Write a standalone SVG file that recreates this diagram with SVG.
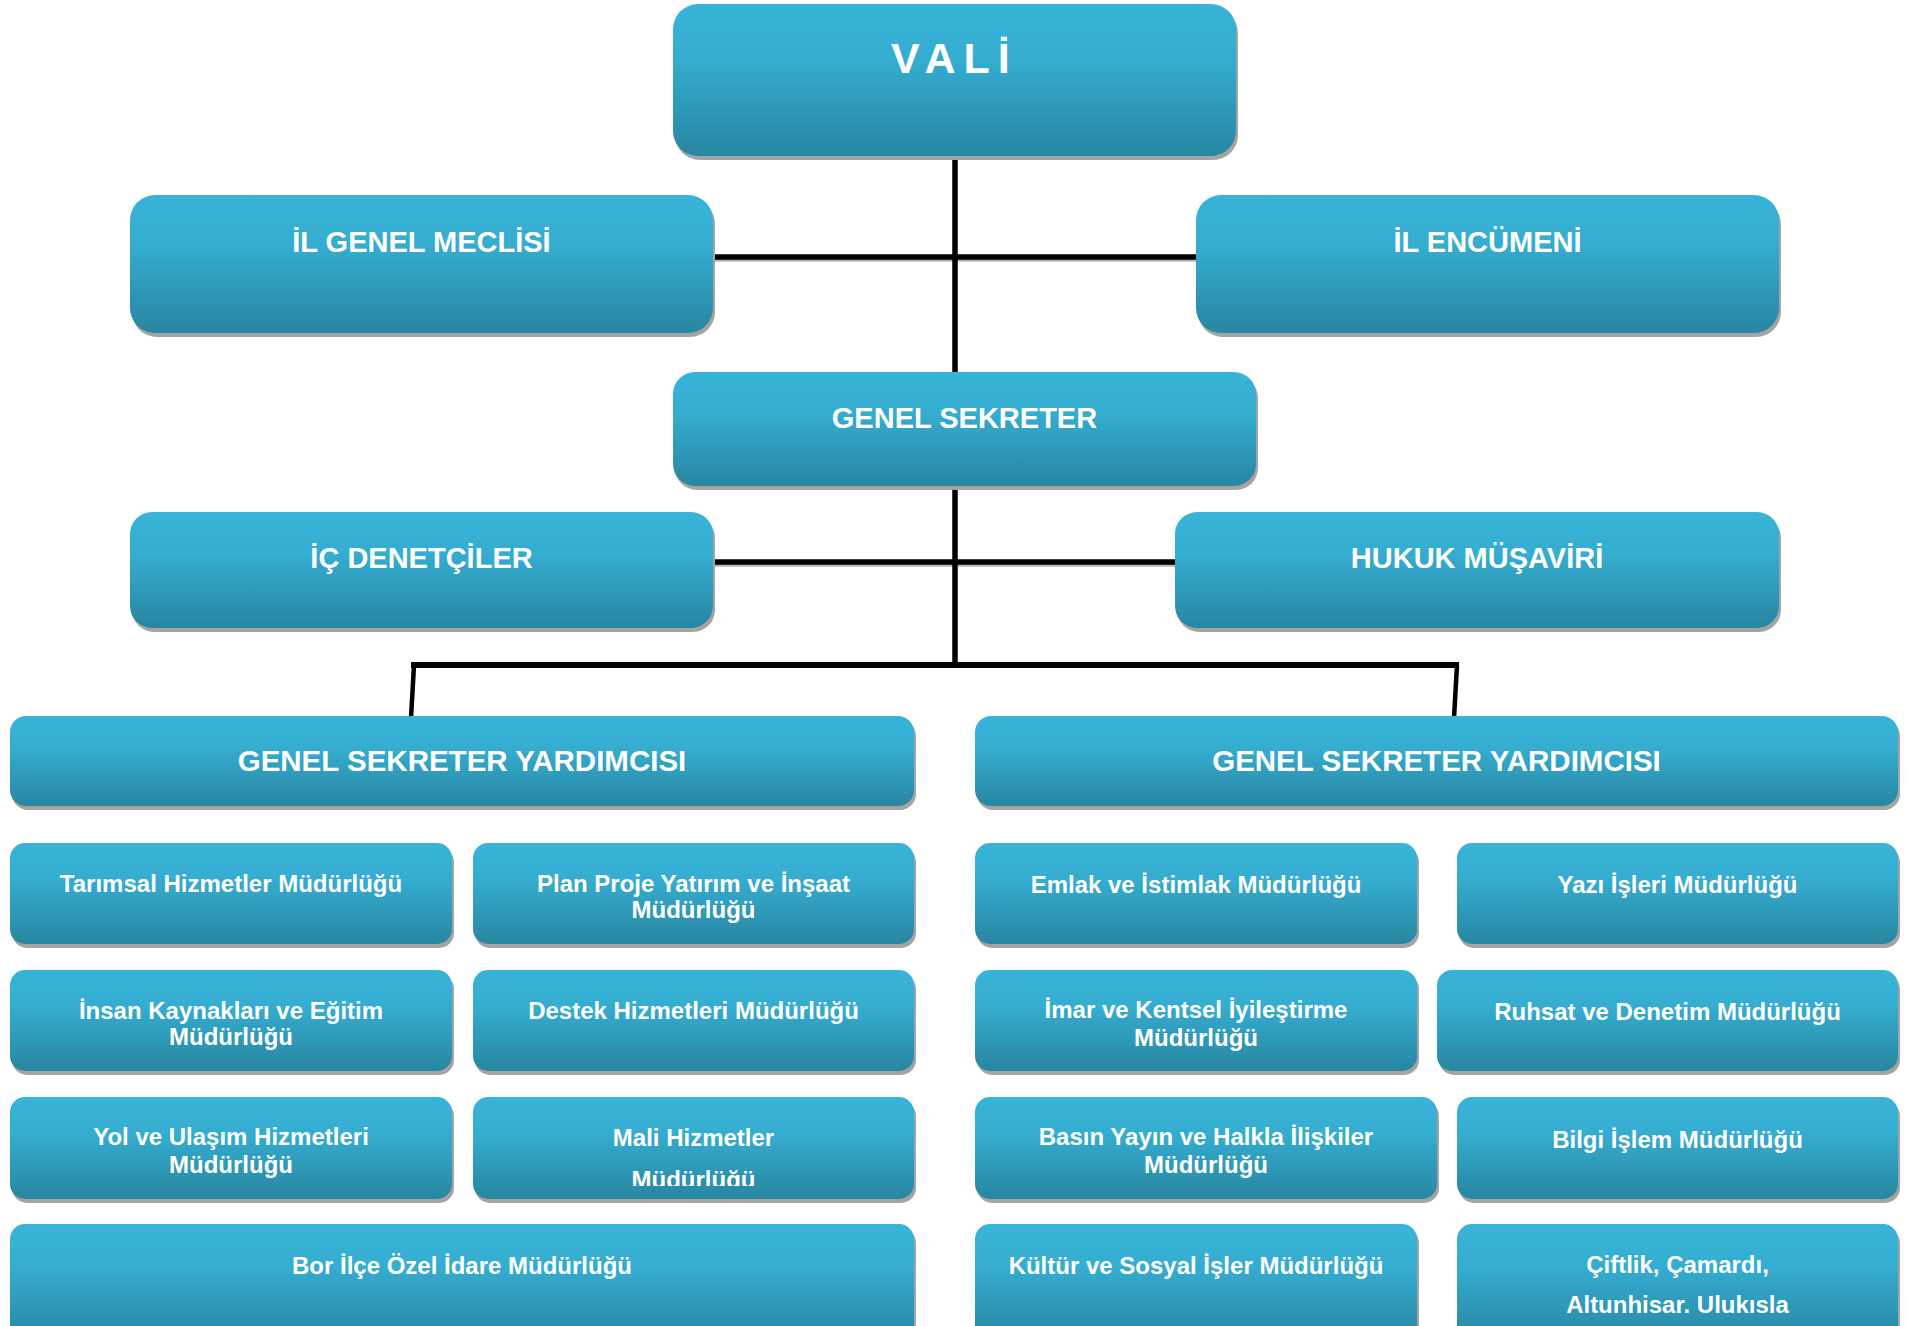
<svg xmlns="http://www.w3.org/2000/svg" width="1908" height="1326" viewBox="0 0 1908 1326">
<defs>
<linearGradient id="bg" x1="0" y1="0" x2="0" y2="1">
<stop offset="0" stop-color="#38b4d8"/>
<stop offset="0.35" stop-color="#35add1"/>
<stop offset="1" stop-color="#2886a1"/>
</linearGradient>
<clipPath id="clipMali"><rect x="473" y="1097" width="441" height="89"/></clipPath>
<clipPath id="clipCift"><rect x="1457" y="1224" width="441" height="91"/></clipPath>
<style>
.bx{fill:url(#bg);}
.sh{fill:#a4a4a4;}
text{font-family:"Liberation Sans",Arial,sans-serif;font-weight:bold;fill:#ffffff;text-anchor:middle;}
.v{font-size:43px;letter-spacing:8px;text-anchor:start;}
.h{font-size:29px;}
.hy{font-size:29.5px;}
.s{font-size:24px;}
.ln{fill:none;stroke:#000000;stroke-width:5.5;}
.lns{fill:none;stroke:#b5b5b5;stroke-width:5.5;}
</style>
</defs>
<rect x="0" y="0" width="1908" height="1326" fill="#ffffff"/>

<g id="connectors">
<path class="lns" d="M713 259 H1196 M713 564 H1175"/>
<path class="ln" d="M955 150 V375 M955 480 V665"/>
<path class="ln" d="M713 257 H1196"/>
<path class="ln" d="M713 562 H1175"/>
<path class="ln" style="stroke-width:6" d="M411 665 H1459"/>
<path class="ln" style="stroke-width:4.5" d="M414 665 L411 718 M1457 665 L1454 718"/>
</g>

<g id="vali">
<rect class="sh" x="675" y="8" width="563" height="152" rx="25"/>
<rect class="bx" x="673" y="4" width="563" height="152" rx="25"/>
<text class="v" x="891" y="73">VALİ</text>
</g>

<g id="il-genel-meclisi">
<rect class="sh" x="132" y="199" width="583" height="138" rx="25"/>
<rect class="bx" x="130" y="195" width="583" height="138" rx="25"/>
<text class="h" x="421.5" y="252">İL GENEL MECLİSİ</text>
</g>

<g id="il-encumeni">
<rect class="sh" x="1198" y="199" width="583" height="138" rx="25"/>
<rect class="bx" x="1196" y="195" width="583" height="138" rx="25"/>
<text class="h" x="1487.5" y="252">İL ENCÜMENİ</text>
</g>

<g id="genel-sekreter">
<rect class="sh" x="675" y="376" width="583" height="114" rx="22"/>
<rect class="bx" x="673" y="372" width="583" height="114" rx="22"/>
<text class="h" x="964.5" y="428">GENEL SEKRETER</text>
</g>

<g id="ic-denetciler">
<rect class="sh" x="132" y="516" width="583" height="116" rx="22"/>
<rect class="bx" x="130" y="512" width="583" height="116" rx="22"/>
<text class="h" x="421.5" y="568">İÇ DENETÇİLER</text>
</g>

<g id="hukuk-musaviri">
<rect class="sh" x="1177" y="516" width="604" height="116" rx="22"/>
<rect class="bx" x="1175" y="512" width="604" height="116" rx="22"/>
<text class="h" x="1477" y="568">HUKUK MÜŞAVİRİ</text>
</g>

<g id="gsy-left">
<rect class="sh" x="12" y="720" width="904" height="90" rx="16"/>
<rect class="bx" x="10" y="716" width="904" height="90" rx="16"/>
<text class="hy" x="462" y="771">GENEL SEKRETER YARDIMCISI</text>
</g>

<g id="gsy-right">
<rect class="sh" x="977" y="720" width="923" height="90" rx="16"/>
<rect class="bx" x="975" y="716" width="923" height="90" rx="16"/>
<text class="hy" x="1436.5" y="771">GENEL SEKRETER YARDIMCISI</text>
</g>

<g id="tarimsal">
<rect class="sh" x="12" y="847" width="442" height="101" rx="15"/>
<rect class="bx" x="10" y="843" width="442" height="101" rx="15"/>
<text class="s" x="231" y="892">Tarımsal Hizmetler Müdürlüğü</text>
</g>

<g id="plan-proje">
<rect class="sh" x="475" y="847" width="441" height="101" rx="15"/>
<rect class="bx" x="473" y="843" width="441" height="101" rx="15"/>
<text class="s" x="693.5" y="892">Plan Proje Yatırım ve İnşaat</text>
<text class="s" x="693.5" y="918">Müdürlüğü</text>
</g>

<g id="emlak">
<rect class="sh" x="977" y="847" width="442" height="101" rx="15"/>
<rect class="bx" x="975" y="843" width="442" height="101" rx="15"/>
<text class="s" x="1196" y="893">Emlak ve İstimlak Müdürlüğü</text>
</g>

<g id="yazi-isleri">
<rect class="sh" x="1459" y="847" width="441" height="101" rx="15"/>
<rect class="bx" x="1457" y="843" width="441" height="101" rx="15"/>
<text class="s" x="1677.5" y="893">Yazı İşleri Müdürlüğü</text>
</g>

<g id="insan-kaynaklari">
<rect class="sh" x="12" y="974" width="442" height="101" rx="15"/>
<rect class="bx" x="10" y="970" width="442" height="101" rx="15"/>
<text class="s" x="231" y="1019">İnsan Kaynakları ve Eğitim</text>
<text class="s" x="231" y="1045">Müdürlüğü</text>
</g>

<g id="destek">
<rect class="sh" x="475" y="974" width="441" height="101" rx="15"/>
<rect class="bx" x="473" y="970" width="441" height="101" rx="15"/>
<text class="s" x="693.5" y="1019">Destek Hizmetleri Müdürlüğü</text>
</g>

<g id="imar">
<rect class="sh" x="977" y="974" width="442" height="101" rx="15"/>
<rect class="bx" x="975" y="970" width="442" height="101" rx="15"/>
<text class="s" x="1196" y="1018">İmar ve Kentsel İyileştirme</text>
<text class="s" x="1196" y="1046">Müdürlüğü</text>
</g>

<g id="ruhsat">
<rect class="sh" x="1439" y="974" width="461" height="101" rx="15"/>
<rect class="bx" x="1437" y="970" width="461" height="101" rx="15"/>
<text class="s" x="1667.5" y="1020">Ruhsat ve Denetim Müdürlüğü</text>
</g>

<g id="yol-ulasim">
<rect class="sh" x="12" y="1101" width="442" height="102" rx="15"/>
<rect class="bx" x="10" y="1097" width="442" height="102" rx="15"/>
<text class="s" x="231" y="1145">Yol ve Ulaşım Hizmetleri</text>
<text class="s" x="231" y="1173">Müdürlüğü</text>
</g>

<g id="mali">
<rect class="sh" x="475" y="1101" width="441" height="102" rx="15"/>
<rect class="bx" x="473" y="1097" width="441" height="102" rx="15"/>
<g clip-path="url(#clipMali)">
<text class="s" x="693.5" y="1146">Mali Hizmetler</text>
<text class="s" x="693.5" y="1188">Müdürlüğü</text>
</g>
</g>

<g id="basin-yayin">
<rect class="sh" x="977" y="1101" width="462" height="102" rx="15"/>
<rect class="bx" x="975" y="1097" width="462" height="102" rx="15"/>
<text class="s" x="1206" y="1145">Basın Yayın ve Halkla İlişkiler</text>
<text class="s" x="1206" y="1173">Müdürlüğü</text>
</g>

<g id="bilgi-islem">
<rect class="sh" x="1459" y="1101" width="441" height="102" rx="15"/>
<rect class="bx" x="1457" y="1097" width="441" height="102" rx="15"/>
<text class="s" x="1677.5" y="1148">Bilgi İşlem Müdürlüğü</text>
</g>

<g id="bor">
<rect class="sh" x="12" y="1228" width="904" height="120" rx="15"/>
<rect class="bx" x="10" y="1224" width="904" height="120" rx="15"/>
<text class="s" x="462" y="1274">Bor İlçe Özel İdare Müdürlüğü</text>
</g>

<g id="kultur">
<rect class="sh" x="977" y="1228" width="442" height="120" rx="15"/>
<rect class="bx" x="975" y="1224" width="442" height="120" rx="15"/>
<text class="s" x="1196" y="1274">Kültür ve Sosyal İşler Müdürlüğü</text>
</g>

<g id="ciftlik">
<rect class="sh" x="1459" y="1228" width="441" height="120" rx="15"/>
<rect class="bx" x="1457" y="1224" width="441" height="120" rx="15"/>
<g clip-path="url(#clipCift)">
<text class="s" x="1677.5" y="1273">Çiftlik, Çamardı,</text>
<text class="s" x="1677.5" y="1313">Altunhisar. Ulukısla</text>
</g>
</g>
</svg>
